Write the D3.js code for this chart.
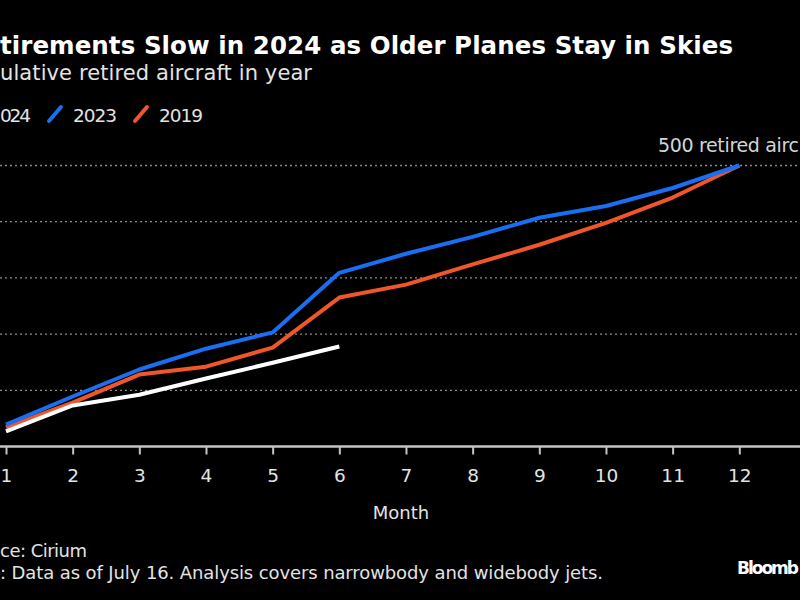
<!DOCTYPE html>
<html>
<head>
<meta charset="utf-8">
<script src="https://cdn.jsdelivr.net/npm/d3@7"></script>
<style>
  html, body { margin: 0; padding: 0; background: #000; overflow: hidden; }
  svg { display: block; }
</style>
</head>
<body>
<svg id="chart" width="800" height="600"></svg>
<script>
// ---- Data (as visible in the reference frame) ----
const months = [1, 2, 3, 4, 5, 6, 7, 8, 9, 10, 11, 12];
const retired2024 = [27, 73, 92, 121, 149, 178];
const retired2023 = [39, 89, 137, 174, 203, 309, 343, 373, 407, 428, 460, 500];
const retired2019 = [34, 78, 128, 142, 176, 265, 288, 324, 359, 398, 443, 500];
const seriesNames = ["024", "2023", "2019"];
const seriesColors = ["#ffffff", "#1a6ef2", "#f0562a"];
const gridValues = [100, 200, 300, 400, 500];
const monthTickLabels = ["1","2","3","4","5","6","7","8","9","10","11","12"];

const title = "tirements Slow in 2024 as Older Planes Stay in Skies";
const subtitle = "ulative retired aircraft in year";
const annotation = "500 retired airc";
const sourceText = "ce: Cirium";
const noteText = ": Data as of July 16. Analysis covers narrowbody and widebody jets.";
const brandText = "Bloomb";

// ---- Setup ----
const svg = d3.select("#chart");
const W = 800, H = 600;
svg.append("rect").attr("width", W).attr("height", H).attr("fill", "#000");

const x = d3.scaleLinear().domain([1, 12]).range([6, 739.3]);
const y = d3.scaleLinear().domain([0, 500]).range([446.5, 165.5]);

const font = "'DejaVu Sans', Verdana, sans-serif";
const textCol = "#e3e3e3";

// Title & subtitle
svg.append("text").attr("x", 0).attr("y", 54)
  .attr("font-family", font).attr("font-weight", "bold")
  .attr("font-size", 24.5).attr("fill", "#fff")
  .attr("textLength", 733).attr("lengthAdjust", "spacing").text(title);
svg.append("text").attr("x", 0).attr("y", 80)
  .attr("font-family", font).attr("font-size", 21).attr("fill", textCol)
  .attr("textLength", 312).attr("lengthAdjust", "spacing").text(subtitle);

// Legend
const legendStarts = [0, 73, 159];
const legendWidths = [31, 44, 44];
seriesNames.forEach((name, i) => {
  const g = svg.append("g");
  g.append("text").attr("x", legendStarts[i]).attr("y", 122)
    .attr("font-family", font).attr("font-size", 18.5).attr("fill", textCol)
    .attr("textLength", legendWidths[i]).attr("lengthAdjust", "spacing").text(name);
  if (i > 0) {
    const tx = legendStarts[i];
    g.append("line").attr("x1", tx - 24).attr("y1", 121).attr("x2", tx - 12).attr("y2", 107)
      .attr("stroke", seriesColors[i]).attr("stroke-width", 4).attr("stroke-linecap", "round");
  }
});

// Gridlines
svg.append("g").selectAll("line").data(gridValues).join("line")
  .attr("x1", 0).attr("x2", W).attr("y1", d => y(d)).attr("y2", d => y(d))
  .attr("stroke", "#8c8c8c").attr("stroke-width", 1.3).attr("stroke-dasharray", "2,3");

// X axis
const xAxis = d3.axisBottom(x).tickValues(months)
  .tickFormat((d, i) => monthTickLabels[i]).tickSize(8).tickPadding(14);
const gx = svg.append("g").attr("transform", `translate(0,${y(0)})`).call(xAxis);
gx.select(".domain").remove();
gx.selectAll(".tick line").attr("stroke", "#c4c4c4").attr("stroke-width", 2);
gx.selectAll(".tick text").attr("fill", textCol).attr("font-size", 18.5)
  .attr("font-family", font);
svg.append("line").attr("x1", 0).attr("x2", W).attr("y1", y(0)).attr("y2", y(0))
  .attr("stroke", "#c4c4c4").attr("stroke-width", 2.5);

svg.append("text").attr("x", 401).attr("y", 519).attr("text-anchor", "middle")
  .attr("font-family", font).attr("font-size", 18).attr("fill", textCol).text("Month");

// Lines
const line = d3.line().x((d, i) => x(months[i])).y(d => y(d));
const seriesData = [retired2019, retired2023, retired2024];
const drawColors = [seriesColors[2], seriesColors[1], seriesColors[0]];
seriesData.forEach((vals, i) => {
  svg.append("path").datum(vals).attr("d", line).attr("fill", "none")
    .attr("stroke", drawColors[i]).attr("stroke-width", 4)
    .attr("stroke-linejoin", "round").attr("stroke-linecap", "butt");
});

// Annotation
svg.append("text").attr("x", 658).attr("y", 152)
  .attr("font-family", font).attr("font-size", 19).attr("fill", "#d4d4d4")
  .attr("textLength", 141).attr("lengthAdjust", "spacing").text(annotation);

// Footer
svg.append("text").attr("x", 0).attr("y", 557)
  .attr("font-family", font).attr("font-size", 18).attr("fill", textCol)
  .attr("textLength", 87).attr("lengthAdjust", "spacing").text(sourceText);
svg.append("text").attr("x", 0).attr("y", 579)
  .attr("font-family", font).attr("font-size", 18).attr("fill", textCol)
  .attr("textLength", 603).attr("lengthAdjust", "spacing").text(noteText);
svg.append("text").attr("x", 737).attr("y", 574)
  .attr("font-family", font).attr("font-weight", "bold")
  .attr("font-size", 17).attr("fill", "#fff")
  .attr("textLength", 62).attr("lengthAdjust", "spacing").text(brandText);
</script>
</body>
</html>
